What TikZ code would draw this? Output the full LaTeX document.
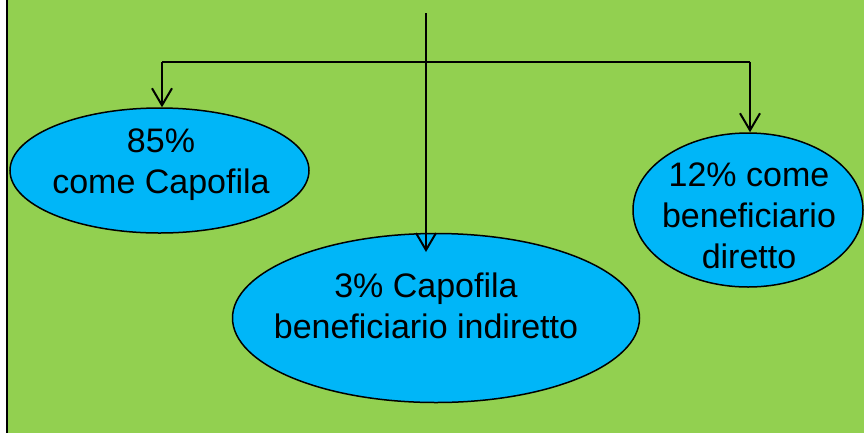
\documentclass[tikz,border=0pt]{standalone}
\usepackage{fontspec}
\setmainfont{Liberation Sans}
\usetikzlibrary{shapes.geometric,arrows.meta}
\definecolor{bggreen}{HTML}{92D050}
\definecolor{ellblue}{HTML}{00B6F8}
\tikzset{
  oval/.style={ellipse, draw=black, line width=1.5pt, fill=ellblue, inner sep=0pt},
  lbl/.style={align=center, font=\fontsize{34}{41}\selectfont, inner sep=0pt, anchor=center},
  conn/.style={draw=black, line width=2pt},
  arr/.style={conn, -{Straight Barb[length=17pt,width=20pt,line width=2pt]}},
}
\begin{document}
\begin{tikzpicture}[x=1pt,y=-1pt]
\useasboundingbox (0,0) rectangle (864,432);
\begin{scope}
\clip (0,0) rectangle (864,432);
\draw[fill=bggreen, line width=2pt] (6.5,-10) rectangle (880,450);
\end{scope}
% ellipses
\node[oval, minimum width=299pt, minimum height=125pt] (e1) at (159.5,170.5) {};
\node[oval, minimum width=230pt, minimum height=154pt] (e2) at (748,210) {};
\node[oval, minimum width=407pt, minimum height=169pt] (e3) at (436,318) {};
% labels
\node[lbl] (t1) at (161,165) {85\%\\come Capofila};
\node[lbl] (t2) at (749,216) {12\% come\\beneficiario\\diretto};
\node[lbl] (t3) at (426,306) {3\% Capofila\\beneficiario indiretto};
% connectors
\coordinate (top) at (426,13);
\coordinate (hl) at (162,61.5);
\coordinate (hr) at (750,61.5);
\coordinate (mtip) at (426,252);
\draw[conn] (hl) -- (hr);
\draw[arr] (top) -- (mtip);
\draw[arr] (hl) -- (hl |- e1.north);
\draw[arr] (hr) -- (hr |- e2.north);
\end{tikzpicture}
\end{document}
